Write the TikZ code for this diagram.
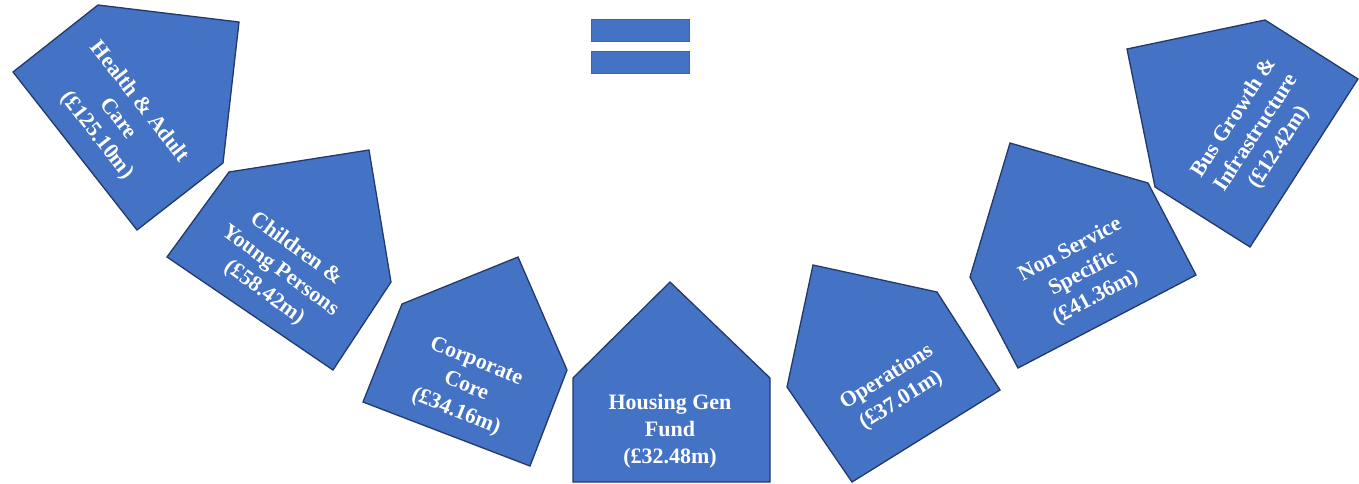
\documentclass[tikz,border=0pt]{standalone}
\usepackage{fontspec}
\setmainfont{Liberation Serif}
\definecolor{boxblue}{HTML}{4472C4}
\definecolor{edgeblue}{HTML}{22396A}
\begin{document}
\begin{tikzpicture}[x=1pt,y=-1pt,
  house/.style={fill=boxblue,draw=edgeblue,line width=1.3pt,line join=miter},
  bar/.style={fill=boxblue,draw=edgeblue!80,line width=0.8pt},
  lbl/.style={text=white,font=\fontsize{22}{27}\selectfont\bfseries,align=center,inner sep=0pt}]
\useasboundingbox (0,0) rectangle (1359,483);
% equals sign
\draw[bar] (591,19) rectangle (689,41);
\draw[bar] (591,51) rectangle (689,73);
% Health & Adult Care
\draw[house] (239,22) -- (223,163) -- (137,230) -- (13,72) -- (98,5) -- cycle;
\node[lbl,rotate=-52] (health) at (118,119) {Health \& Adult\\Care\\(£125.10m)};
% Children & Young Persons
\draw[house] (369,150) -- (391,282) -- (333,370) -- (167,257) -- (229,172) -- cycle;
\node[lbl,rotate=-36] (children) at (280,271) {Children \&\\Young Persons\\(£58.42m)};
% Corporate Core
\draw[house] (518,257) -- (567,370) -- (530,466) -- (363,402) -- (402,304) -- cycle;
\node[lbl,rotate=-22] (corporate) at (466,387) {Corporate\\Core\\(£34.16m)};
% Housing Gen Fund
\draw[house] (670,282) -- (770,378) -- (770,482) -- (573,482) -- (573,378) -- cycle;
\node[lbl] (housing) at (670,431) {Housing Gen\\Fund\\(£32.48m)};
% Operations
\draw[house] (813,265) -- (937,292) -- (1000,390) -- (852,482) -- (787,387) -- cycle;
\node[lbl,rotate=32] (operations) at (894,389) {Operations\\(£37.01m)};
% Non Service Specific
\draw[house] (1010,143) -- (1148,183) -- (1196,275) -- (1018,368) -- (970,277) -- cycle;
\node[lbl,rotate=28] (nonservice) at (1083,274) {Non Service\\Specific\\(£41.36m)};
% Bus Growth & Infrastructure
\draw[house] (1127,49) -- (1265,20) -- (1358,79) -- (1250,247) -- (1155,187) -- cycle;
\node[lbl,rotate=57] (bus) at (1257,133) {Bus Growth \&\\Infrastructure\\(£12.42m)};
\end{tikzpicture}
\end{document}
